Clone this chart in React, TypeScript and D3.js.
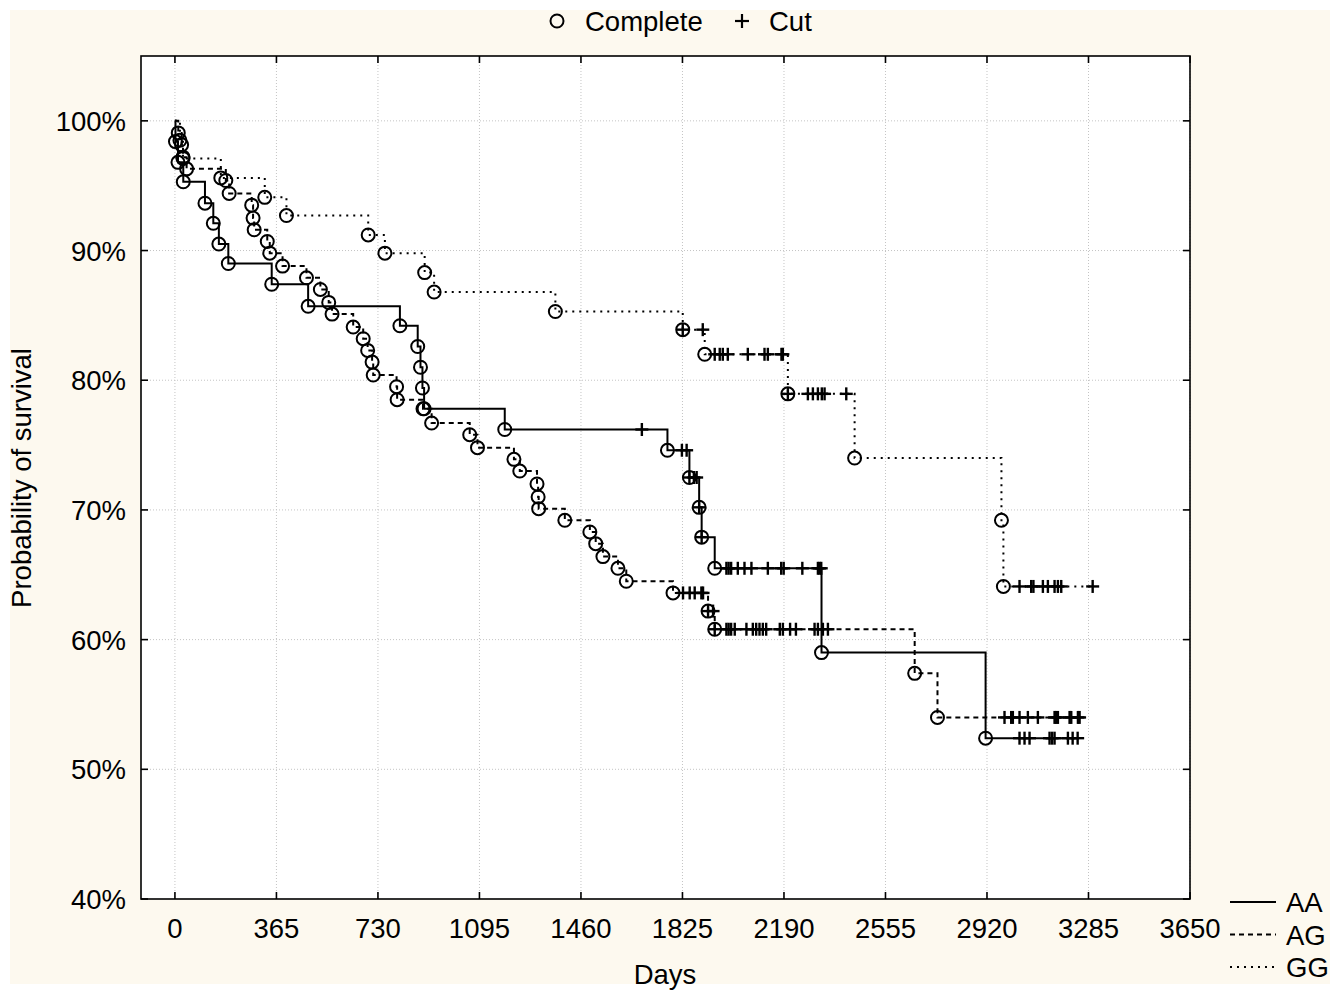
import React, { useEffect, useRef } from 'react';
import * as d3 from 'd3';

// Kaplan-Meier estimates: [day, survival %] after each event
const aaEvents: [number, number][] = [
  [2, 98.4], [11, 96.8], [30, 95.3], [108, 93.65], [138, 92.1], [158, 90.5],
  [192, 89.0], [348, 87.4], [479, 85.7], [809, 84.2], [873, 82.6], [883, 81.0],
  [890, 79.4], [896, 77.8], [1186, 76.2], [1771, 74.6], [1850, 72.5], [1885, 70.2],
  [1894, 67.9], [1941, 65.5], [2325, 59.0], [2915, 52.4],
];
const aaCensored = [
  1679, 1823, 1840, 1850, 1866, 1876, 1885, 1894, 1983, 1991, 2000, 2024, 2048, 2073,
  2132, 2180, 2189, 2256, 2312, 2318, 2324, 3037, 3055, 3073, 3145, 3154, 3163, 3211,
  3228, 3246,
];

const agEvents: [number, number][] = [
  [12, 99.07], [24, 98.15], [29, 97.2], [42, 96.3], [183, 95.4], [195, 94.4],
  [276, 93.5], [281, 92.5], [285, 91.6], [332, 90.7], [341, 89.8], [387, 88.8],
  [473, 87.9], [523, 87.0], [553, 86.0], [565, 85.1], [641, 84.1], [677, 83.2],
  [693, 82.3], [709, 81.4], [713, 80.4], [797, 79.5], [799, 78.5], [892, 77.8],
  [923, 76.7], [1060, 75.8], [1088, 74.8], [1219, 73.9], [1240, 73.0], [1302, 72.0],
  [1306, 71.0], [1308, 70.1], [1402, 69.2], [1492, 68.3], [1513, 67.4], [1539, 66.4],
  [1593, 65.5], [1623, 64.5], [1791, 63.6], [1917, 62.2], [1941, 60.8], [2660, 57.4],
  [2742, 54.0],
];
const agCensored = [
  1827, 1851, 1869, 1893, 1899, 1917, 1935, 1941, 1983, 1991, 2000, 2013, 2055, 2078,
  2090, 2102, 2114, 2126, 2175, 2186, 2212, 2233, 2300, 2312, 2330, 2348, 2983, 3007,
  3013, 3037, 3067, 3103, 3163, 3169, 3175, 3217, 3223, 3247, 3253,
];

const ggEvents: [number, number][] = [
  [18, 98.5], [29, 97.1], [165, 95.6], [323, 94.1], [401, 92.7], [695, 91.2],
  [755, 89.8], [898, 88.3], [932, 86.8], [1368, 85.3], [1826, 83.9], [1905, 82.0],
  [2204, 78.95], [2444, 74.0], [2972, 69.2], [2979, 64.1],
];
const ggCensored = [
  1826, 1898, 1941, 1959, 1970, 1988, 2060, 2120, 2132, 2181, 2186, 2204, 2276, 2294,
  2312, 2326, 2336, 2414, 3037, 3079, 3087, 3121, 3139, 3163, 3175, 3187, 3300,
];

const xTicks = [0, 365, 730, 1095, 1460, 1825, 2190, 2555, 2920, 3285, 3650];
const yTicks = [40, 50, 60, 70, 80, 90, 100];
const groups = ['AA', 'AG', 'GG'];

const W = 1340;
const H = 992;
const FONT = '"Liberation Sans", Arial, sans-serif';

function App() {
  const ref = useRef<SVGSVGElement>(null);

  useEffect(() => {
    const svg = d3.select(ref.current);
    svg.selectAll('*').remove();

    const left = 141, right = 1190, top = 56, bottom = 899;
    const x = d3.scaleLinear().domain([-122, 3650]).range([left, right]);
    const y = d3.scaleLinear().domain([40, 105]).range([bottom, top]);

    svg.append('rect').attr('width', W).attr('height', H).attr('fill', '#ffffff');
    svg.append('rect').attr('x', 10).attr('y', 10).attr('width', W - 20).attr('height', H - 18)
      .attr('fill', '#fdf9ef');
    svg.append('rect').attr('x', left).attr('y', top).attr('width', right - left)
      .attr('height', bottom - top).attr('fill', '#ffffff');

    // grid
    const grid = svg.append('g').attr('stroke', '#c4c4c4').attr('stroke-width', 1)
      .attr('stroke-dasharray', '1,2');
    grid.selectAll('.gx').data(xTicks).enter().append('line')
      .attr('x1', d => x(d)).attr('x2', d => x(d)).attr('y1', top).attr('y2', bottom);
    grid.selectAll('.gy').data(yTicks.filter(d => d > 40)).enter().append('line')
      .attr('x1', left).attr('x2', right).attr('y1', d => y(d)).attr('y2', d => y(d));

    // curves
    const styles: Record<string, string | null> = { AA: null, AG: '5,4', GG: '2,5' };
    const data: Record<string, { ev: [number, number][]; cens: number[] }> = {
      AA: { ev: aaEvents, cens: aaCensored },
      AG: { ev: agEvents, cens: agCensored },
      GG: { ev: ggEvents, cens: ggCensored },
    };
    const line = d3.line<[number, number]>().x(d => x(d[0])).y(d => y(d[1])).curve(d3.curveStepAfter);
    const survAt = (ev: [number, number][], t: number) => {
      let s = 100;
      ev.forEach(e => { if (e[0] <= t) s = e[1]; });
      return s;
    };

    groups.forEach(g => {
      const { ev, cens } = data[g];
      const end = Math.max(d3.max(cens) || 0, d3.max(ev, e => e[0]) || 0);
      const pts: [number, number][] = [[0, 100], ...ev, [end, ev[ev.length - 1][1]]];
      svg.append('path').attr('d', line(pts)).attr('fill', 'none').attr('stroke', '#000')
        .attr('stroke-width', 2)
        .attr('stroke-dasharray', styles[g]);

      svg.append('g').selectAll('circle').data(ev).enter().append('circle')
        .attr('cx', d => x(d[0])).attr('cy', d => y(d[1])).attr('r', 6.5)
        .attr('fill', 'none').attr('stroke', '#000').attr('stroke-width', 2);

      const cg = svg.append('g').attr('stroke', '#000').attr('stroke-width', 2.4);
      cens.forEach(t => {
        const cx = x(t), cy = y(survAt(ev, t));
        cg.append('line').attr('x1', cx).attr('x2', cx).attr('y1', cy - 6.5).attr('y2', cy + 6.5);
        cg.append('line').attr('x1', cx - 6.5).attr('x2', cx + 6.5).attr('y1', cy).attr('y2', cy);
      });
    });

    // frame and ticks
    svg.append('rect').attr('x', left).attr('y', top).attr('width', right - left)
      .attr('height', bottom - top).attr('fill', 'none').attr('stroke', '#000').attr('stroke-width', 1.6);
    const tk = svg.append('g').attr('stroke', '#000').attr('stroke-width', 1.6);
    xTicks.forEach(t => {
      tk.append('line').attr('x1', x(t)).attr('x2', x(t)).attr('y1', bottom).attr('y2', bottom - 7);
      tk.append('line').attr('x1', x(t)).attr('x2', x(t)).attr('y1', top).attr('y2', top + 7);
    });
    yTicks.forEach(t => {
      tk.append('line').attr('x1', left).attr('x2', left + 7).attr('y1', y(t)).attr('y2', y(t));
      tk.append('line').attr('x1', right).attr('x2', right - 7).attr('y1', y(t)).attr('y2', y(t));
    });

    const txt = svg.append('g').attr('font-family', FONT).attr('font-size', 27.5).attr('fill', '#000');
    xTicks.forEach(t => {
      txt.append('text').attr('x', x(t)).attr('y', 938).attr('text-anchor', 'middle').text(t);
    });
    yTicks.forEach(t => {
      txt.append('text').attr('x', 126).attr('y', y(t) + 10).attr('text-anchor', 'end').text(`${t}%`);
    });
    txt.append('text').attr('x', 665).attr('y', 984).attr('text-anchor', 'middle').text('Days');
    txt.append('text').attr('transform', 'translate(31,478) rotate(-90)').attr('text-anchor', 'middle')
      .text('Probability of survival');

    // top legend
    svg.append('circle').attr('cx', 557).attr('cy', 21).attr('r', 6.5).attr('fill', 'none')
      .attr('stroke', '#000').attr('stroke-width', 2);
    txt.append('text').attr('x', 585).attr('y', 31).text('Complete');
    const lp = svg.append('g').attr('stroke', '#000').attr('stroke-width', 2.2);
    lp.append('line').attr('x1', 742).attr('x2', 742).attr('y1', 14).attr('y2', 28);
    lp.append('line').attr('x1', 735).attr('x2', 749).attr('y1', 21).attr('y2', 21);
    txt.append('text').attr('x', 769).attr('y', 31).text('Cut');

    // right legend
    groups.forEach((g, i) => {
      const ly = 902 + i * 32.5;
      svg.append('line').attr('x1', 1230).attr('x2', 1276).attr('y1', ly).attr('y2', ly)
        .attr('stroke', '#000').attr('stroke-width', 2)
        .attr('stroke-dasharray', styles[g]);
      txt.append('text').attr('x', 1286).attr('y', ly + 10).text(g);
    });
  }, []);

  return (
    <div style={{ position: 'absolute', left: 0, top: 0 }}>
      <svg ref={ref} width={W} height={H} />
    </div>
  );
}

export default App;
